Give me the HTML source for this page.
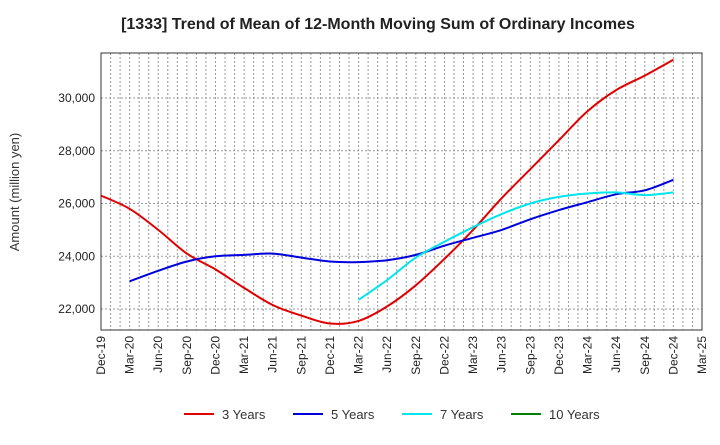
<!DOCTYPE html>
<html><head><meta charset="utf-8"><style>
body{margin:0;background:#fff;font-family:"Liberation Sans",sans-serif}
</style></head><body>
<svg id="c" width="720" height="440" xmlns="http://www.w3.org/2000/svg"></svg>
<script>
const xLabels=["Dec-19","Mar-20","Jun-20","Sep-20","Dec-20","Mar-21","Jun-21","Sep-21","Dec-21","Mar-22","Jun-22","Sep-22","Dec-22","Mar-23","Jun-23","Sep-23","Dec-23","Mar-24","Jun-24","Sep-24","Dec-24","Mar-25"];
const yTicks=[22000,24000,26000,28000,30000];
const s3=[26300,25800,25000,24100,23500,22800,22150,21750,21450,21550,22100,22900,23900,25000,26200,27300,28400,29500,30300,30850,31450];
const s5=[null,23050,23450,23800,24000,24050,24100,23950,23800,23780,23850,24050,24400,24700,25000,25400,25750,26050,26350,26500,26900];
const s7=[null,null,null,null,null,null,null,null,null,22350,23100,23950,24550,25100,25600,26000,26250,26380,26420,26320,26420];
const s10=[];
const series=[{n:"3 Years",c:"#e00000",d:s3},{n:"5 Years",c:"#0000dd",d:s5},{n:"7 Years",c:"#00e5ee",d:s7},{n:"10 Years",c:"#008000",d:s10}];
const L=101,R=702,T=53,B=330;
const X=i=>L+(R-L)*i/21;
const Y=v=>98+(30000-v)*(52.75/2000);
const svg=document.getElementById('c');const NS="http://www.w3.org/2000/svg";
function add(t,a,p){const e=document.createElementNS(NS,t);for(const k in a)e.setAttribute(k,a[k]);(p||svg).appendChild(e);return e;}
let e;
e=add('text',{x:378,y:29,'text-anchor':'middle','font-size':16,'font-weight':'bold',fill:'#222'});e.textContent="[1333]  Trend of Mean of 12-Month Moving Sum of Ordinary Incomes";


for(let m=1;m<63;m++){const x=L+(R-L)*m/63;e=add('line',{x1:x,x2:x,y1:T,y2:B,stroke:'#999','stroke-dasharray':'2,2','stroke-width':1});

}
yTicks.forEach(v=>{e=add('line',{x1:L,x2:R,y1:Y(v),y2:Y(v),stroke:'#999','stroke-dasharray':'2,2'});


e=add('text',{x:L-6,y:Y(v)+4,'text-anchor':'end','font-size':12,fill:'#222'});e.textContent=v.toLocaleString('en-US');

});
e=add('rect',{x:L,y:T,width:R-L,height:B-T,fill:'none',stroke:'#333'});


xLabels.forEach((l,i)=>{const x=X(i);e=add('text',{transform:`translate(${x+4},${B+6}) rotate(-90)`,'text-anchor':'end','font-size':12,fill:'#222'});e.textContent=l;

});
e=add('text',{transform:'translate(19,192) rotate(-90)','text-anchor':'middle','font-size':13,fill:'#333'});e.textContent="Amount (million yen)";


function smooth(p){if(p.length<2)return"";let d="M"+p[0][0].toFixed(1)+","+p[0][1].toFixed(1);
for(let i=0;i<p.length-1;i++){const p0=p[i-1]||p[i],p1=p[i],p2=p[i+1],p3=p[i+2]||p2;
const c1=[p1[0]+(p2[0]-p0[0])/6,p1[1]+(p2[1]-p0[1])/6],c2=[p2[0]-(p3[0]-p1[0])/6,p2[1]-(p3[1]-p1[1])/6];
d+=`C${c1[0].toFixed(1)},${c1[1].toFixed(1)} ${c2[0].toFixed(1)},${c2[1].toFixed(1)} ${p2[0].toFixed(1)},${p2[1].toFixed(1)}`;}return d;}
series.forEach(s=>{const pts=[];s.d.forEach((v,i)=>{if(v!=null)pts.push([X(i),Y(v)]);});
const d=smooth(pts);
if(d){e=add('path',{d:d,fill:'none',stroke:s.c,'stroke-width':2,'stroke-linejoin':'round'});

}});
const lx=[184,293,402,511];
series.forEach((s,i)=>{const g=add('g',{});


add('line',{x1:lx[i],x2:lx[i]+30,y1:414,y2:414,stroke:s.c,'stroke-width':2},g);
const t=add('text',{x:lx[i]+38,y:419,'font-size':13,fill:'#333'},g);t.textContent=s.n;});
</script>
</body></html>
